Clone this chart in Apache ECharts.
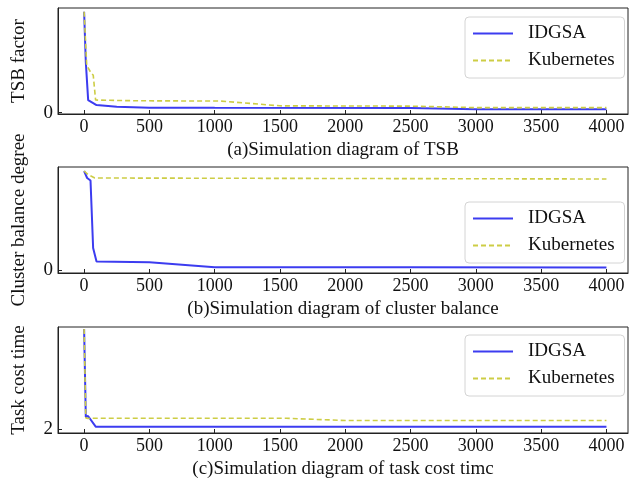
<!DOCTYPE html>
<html lang="en">
<head>
    <meta charset="UTF-8">
    <title>Simulation diagrams</title>
    <script src="https://cdn.jsdelivr.net/npm/echarts@6/dist/echarts.min.js" charset="utf-8"></script>
    <style>
        html, body {margin: 0; padding: 0; background: #fff;}
        #main {width: 630px; height: 484px;}
    </style>
</head>
<body>
<div id="main"></div>
<script>
    // iterations and values
    var tsbIdgsaX = [0, 13, 31, 95, 250, 500, 1000, 2500, 3000, 4000];
    var tsbIdgsaY = [100, 50, 12.5, 7.5, 6, 5, 4.8, 4.6, 3.4, 3.4];
    var tsbKubeX = [0, 20, 50, 70, 88, 400, 1050, 1500, 2500, 3000, 4000];
    var tsbKubeY = [100, 47, 40, 37, 12.5, 11.8, 11.5, 6.8, 6.5, 5, 5];

    var balIdgsaX = [0, 23, 49, 55, 69, 95, 500, 1000, 2500, 4000];
    var balIdgsaY = [99, 92, 89.5, 88, 22, 8.5, 7.8, 2.7, 2.7, 2.5];
    var balKubeX = [0, 31, 82, 4000];
    var balKubeY = [99, 95.3, 92, 91];

    var costIdgsaX = [0, 13, 30, 90, 4000];
    var costIdgsaY = [12, 3.2, 3.3, 2.22, 2.22];
    var costKubeX = [0, 13, 30, 60, 1550, 2000, 4000];
    var costKubeY = [12, 3.1, 3.05, 3.07, 3.07, 2.85, 2.85];

    var xTicks = [0, 500, 1000, 1500, 2000, 2500, 3000, 3500, 4000];
    var captions = ['(a)Simulation diagram of TSB', '(b)Simulation diagram of cluster balance', '(c)Simulation diagram of task cost timc'];
    var yNames = ['TSB factor', 'Cluster balance degree', 'Task cost time'];
    var yTicks = [[0], [0], [2]];
    var yRanges = [[-1.3, 103.7], [-3, 103], [1.6, 12.2]];

    var FONT = 'Liberation Serif';
    var BLUE = '#3c3cf0';
    var YELLOW = '#cdcd45';
    var tops = [8, 167, 327];
    var legendTops = [17, 202, 335];

    function pairs(xs, ys) {
        return xs.map(function (x, i) { return [x, ys[i]]; });
    }

    var grids = [], xAxes = [], yAxes = [], legends = [];
    for (var i = 0; i < 3; i++) {
        grids.push({
            left: 58, right: 2, top: tops[i], height: 106,
            containLabel: false, outerBoundsMode: 'none',
            show: true, borderColor: '#222', borderWidth: 1
        });
        xAxes.push({
            gridIndex: i, type: 'value', min: -200, max: 4165,
            name: captions[i], nameLocation: 'middle', nameGap: 27,
            nameTextStyle: {fontFamily: FONT, fontSize: 19, color: '#111'},
            axisLine: {onZero: false, lineStyle: {color: '#222', width: 1}},
            axisTick: {inside: true, length: 4, customValues: xTicks, lineStyle: {color: '#222'}},
            axisLabel: {
                customValues: xTicks, margin: 4, fontFamily: FONT, fontSize: 18, color: '#111',
                formatter: function (v) { return String(v); }
            },
            splitLine: {show: false}
        });
        yAxes.push({
            gridIndex: i, type: 'value', min: yRanges[i][0], max: yRanges[i][1],
            name: yNames[i], nameLocation: 'middle', nameGap: 29,
            nameTextStyle: {fontFamily: FONT, fontSize: 19, color: '#111'},
            axisLine: {show: true, onZero: false, lineStyle: {color: '#222', width: 1}},
            axisTick: {inside: true, length: 4, customValues: yTicks[i], lineStyle: {color: '#222'}},
            axisLabel: {customValues: yTicks[i], margin: 5, fontFamily: FONT, fontSize: 19, color: '#111'},
            splitLine: {show: false}
        });
        legends.push({
            data: ['IDGSA', 'Kubernetes'],
            orient: 'vertical', left: 465, top: legendTops[i],
            padding: [7, 10, 8, 7], itemGap: 8,
            itemWidth: 40, itemHeight: 14,
            itemStyle: {opacity: 0},
            backgroundColor: '#fff', borderColor: '#d4d4d4', borderWidth: 1, borderRadius: 4,
            textStyle: {fontFamily: FONT, fontSize: 19, color: '#111', padding: [0, 0, 0, 10]}
        });
    }

    function lineSeries(name, idx, data) {
        var kube = name === 'Kubernetes';
        return {
            name: name, type: 'line', xAxisIndex: idx, yAxisIndex: idx,
            data: data, symbol: 'none', silent: true,
            lineStyle: kube ? {color: YELLOW, width: 1.6, type: [5, 3]} : {color: BLUE, width: 2},
            itemStyle: {color: kube ? YELLOW : BLUE},
            z: kube ? 3 : 2
        };
    }

    var option = {
        animation: false,
        backgroundColor: '#fff',
        grid: grids,
        xAxis: xAxes,
        yAxis: yAxes,
        legend: legends,
        series: [
            lineSeries('IDGSA', 0, pairs(tsbIdgsaX, tsbIdgsaY)),
            lineSeries('Kubernetes', 0, pairs(tsbKubeX, tsbKubeY)),
            lineSeries('IDGSA', 1, pairs(balIdgsaX, balIdgsaY)),
            lineSeries('Kubernetes', 1, pairs(balKubeX, balKubeY)),
            lineSeries('IDGSA', 2, pairs(costIdgsaX, costIdgsaY)),
            lineSeries('Kubernetes', 2, pairs(costKubeX, costKubeY))
        ]
    };

    var myChart = echarts.init(document.getElementById('main'));
    myChart.setOption(option);
</script>
</body>
</html>
